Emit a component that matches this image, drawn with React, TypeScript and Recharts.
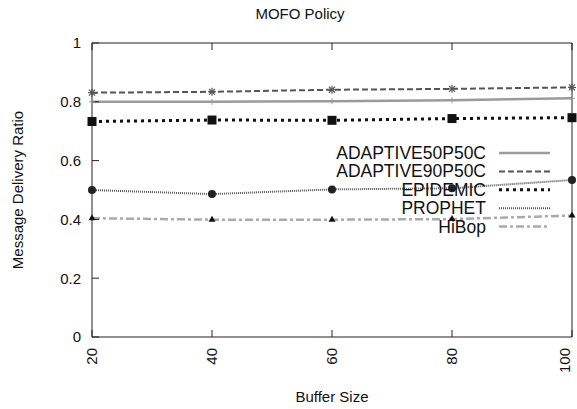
import React from 'react';
import { LineChart, Line, XAxis, YAxis } from 'recharts';

const bufferSizes = [20, 40, 60, 80, 100];
const adaptive50 = [0.8, 0.8, 0.802, 0.805, 0.812];
const adaptive90 = [0.831, 0.834, 0.841, 0.844, 0.849];
const epidemic = [0.733, 0.738, 0.737, 0.743, 0.746];
const prophet = [0.5, 0.486, 0.502, 0.506, 0.534];
const hibop = [0.404, 0.399, 0.399, 0.401, 0.413];

const xTicks = [20, 40, 60, 80, 100];
const yTicks = [0, 0.2, 0.4, 0.6, 0.8, 1];

const FONT = '"Liberation Sans", Arial, sans-serif';

const data = bufferSizes.map((b, i) => ({
  buffer: b,
  a50: adaptive50[i],
  a90: adaptive90[i],
  epidemic: epidemic[i],
  prophet: prophet[i],
  hibop: hibop[i],
}));

const PlusDot = ({ cx, cy }: any) => (
  <g stroke="#999" strokeWidth={1}>
    <line x1={cx - 3} y1={cy} x2={cx + 3} y2={cy} />
    <line x1={cx} y1={cy - 3} x2={cx} y2={cy + 3} />
  </g>
);

const StarDot = ({ cx, cy }: any) => (
  <g stroke="#555" strokeWidth={1.2}>
    <line x1={cx - 4} y1={cy} x2={cx + 4} y2={cy} />
    <line x1={cx} y1={cy - 4} x2={cx} y2={cy + 4} />
    <line x1={cx - 3} y1={cy - 3} x2={cx + 3} y2={cy + 3} />
    <line x1={cx - 3} y1={cy + 3} x2={cx + 3} y2={cy - 3} />
  </g>
);

const SquareDot = ({ cx, cy }: any) => (
  <rect x={cx - 4.5} y={cy - 4.5} width={9} height={9} fill="#111" />
);

const CircleDot = ({ cx, cy }: any) => <circle cx={cx} cy={cy} r={4} fill="#222" />;

const TriDot = ({ cx, cy }: any) => (
  <polygon points={`${cx},${cy - 4} ${cx - 3.5},${cy + 2} ${cx + 3.5},${cy + 2}`} fill="#111" />
);

const series = [
  { key: 'a50', name: 'ADAPTIVE50P50C', color: '#9b9b9b', width: 2.5, dash: undefined, dot: PlusDot },
  { key: 'a90', name: 'ADAPTIVE90P50C', color: '#555', width: 2, dash: '6 3', dot: StarDot },
  { key: 'epidemic', name: 'EPIDEMIC', color: '#111', width: 3, dash: '3 4', dot: SquareDot },
  { key: 'prophet', name: 'PROPHET', color: '#555', width: 2, dash: '1 1', dot: CircleDot },
  { key: 'hibop', name: 'HiBop', color: '#aaa', width: 2.5, dash: '8 3 3 3', dot: TriDot },
];

const XTick = ({ x, y, payload }: any) => (
  <g transform={`translate(${x},${y})`}>
    <text transform="rotate(-90)" textAnchor="end" dy="0.35em" fontSize={15} fontFamily={FONT} fill="#111">
      {payload.value}
    </text>
  </g>
);

export default function App() {
  return (
    <div style={{ position: 'absolute', left: 0, top: 0, width: 577, height: 409, background: '#fff' }}>
      <LineChart width={577} height={409} data={data} margin={{ top: 42, right: 4, bottom: 32, left: 0 }}>
        <XAxis
          dataKey="buffer"
          type="number"
          domain={[20, 100]}
          ticks={xTicks}
          tickSize={-7}
          tickMargin={18}
          height={40}
          stroke="#222"
          tick={<XTick />}
        />
        <XAxis
          xAxisId="top"
          orientation="top"
          dataKey="buffer"
          type="number"
          domain={[20, 100]}
          ticks={xTicks}
          tickSize={-7}
          height={1}
          stroke="#222"
          tickFormatter={() => ''}
        />
        <YAxis
          type="number"
          domain={[0, 1]}
          ticks={yTicks}
          tickSize={-7}
          tickMargin={18}
          width={92}
          stroke="#222"
          tick={{ fontSize: 15, fontFamily: FONT, fill: '#111' }}
        />
        <YAxis
          yAxisId="right"
          orientation="right"
          type="number"
          domain={[0, 1]}
          ticks={yTicks}
          tickSize={-7}
          width={1}
          stroke="#222"
          tickFormatter={() => ''}
        />
        {series.map(s => (
          <Line
            key={s.key}
            type="linear"
            dataKey={s.key}
            stroke={s.color}
            strokeWidth={s.width}
            strokeDasharray={s.dash}
            dot={(p: any) => <s.dot key={`${s.key}-${p.index}`} {...p} />}
            isAnimationActive={false}
          />
        ))}
      </LineChart>
      <svg
        width={577}
        height={409}
        style={{ position: 'absolute', left: 0, top: 0, pointerEvents: 'none' }}
        fontFamily={FONT}
      >
        <text x={300} y={19} textAnchor="middle" fontSize={15} fill="#111">MOFO Policy</text>
        <text x={332} y={402} textAnchor="middle" fontSize={15} fill="#111">Buffer Size</text>
        <text
          transform="translate(23,190) rotate(-90)"
          textAnchor="middle"
          fontSize={15}
          fill="#111"
        >
          Message Delivery Ratio
        </text>
        {series.map((s, i) => {
          const y = 153 + i * 18.4;
          return (
            <g key={s.key}>
              <text x={486} y={y + 6} textAnchor="end" fontSize={17.5} fill="#111">{s.name}</text>
              <line
                x1={499}
                x2={550}
                y1={y}
                y2={y}
                stroke={s.color}
                strokeWidth={s.width}
                strokeDasharray={s.dash}
              />
            </g>
          );
        })}
      </svg>
    </div>
  );
}
